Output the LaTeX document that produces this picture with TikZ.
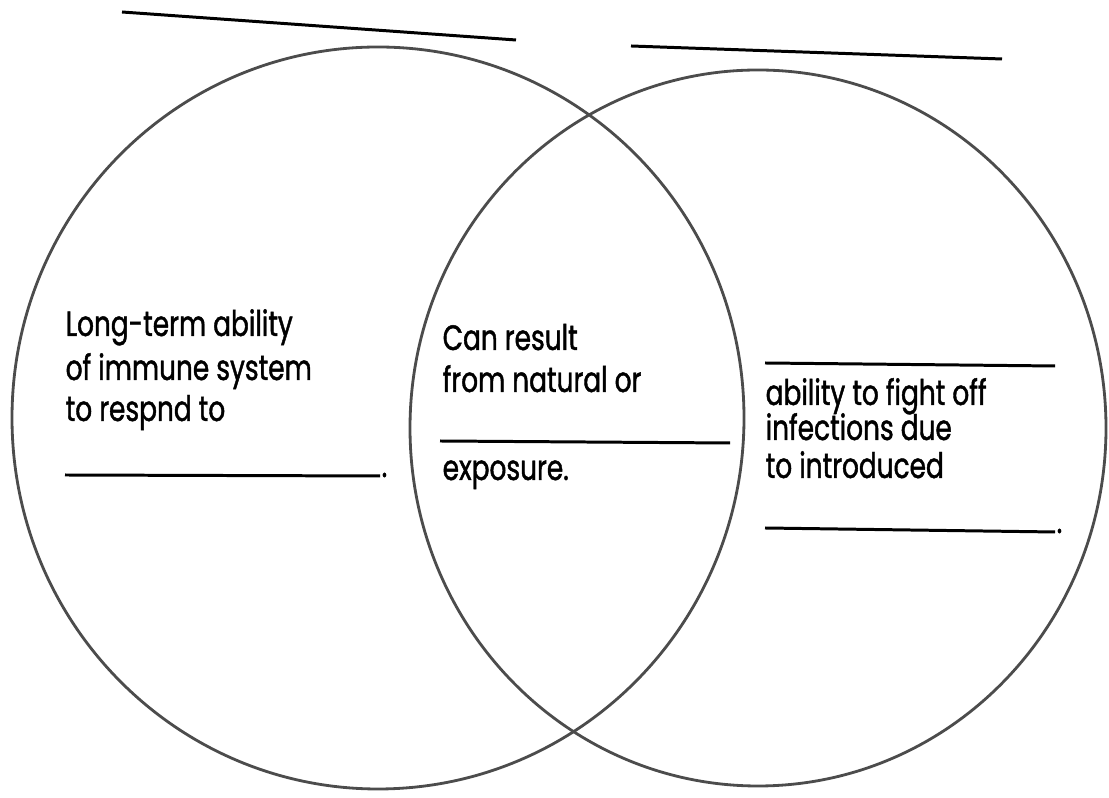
\documentclass[tikz,border=0pt]{standalone}
\usepackage{fontspec}
\setmainfont{Poppins}[FakeStretch=0.75, FakeBold=1.2]
\usepackage{tikz}
\usetikzlibrary{calc, positioning}

\tikzset{
    ring/.style={draw=black!70, line width=0.8pt},
    blank/.style={draw=black, line width=0.85pt},
    txt/.style={anchor=base west, inner sep=0pt, font=\fontsize{10}{12}\selectfont}
}

\begin{document}
\begin{tikzpicture}[x=0.01cm, y=-0.01cm]
                    \useasboundingbox (0, 0) rectangle (1109, 798);

                    % the two circles
                    \draw[ring] (378, 418) ellipse [x radius=366, y radius=371];
                    \draw[ring] (758, 428) ellipse [x radius=348, y radius=358];

                    % headings to fill in
                    \draw[blank] (122, 12) -- (516, 40);
                    \draw[blank] (631, 46) -- (1002, 59);

                    % left part
                    \node[txt] (left1) at (65, 336) {Long-term ability};
                    \node[txt] (left2) at (65, 380) {of immune system};
                    \node[txt] (left3) at (65, 421) {to respnd to};
                    \draw[blank] (65, 475) -- (380, 476);
                    \node[txt] (leftdot) at (381, 477) {.};

                    % middle part
                    \node[txt] (mid1) at (442, 350) {Can result};
                    \node[txt] (mid2) at (442, 392) {from natural or};
                    \draw[blank] (440, 441) -- (730, 443);
                    \node[txt] (mid3) at (442, 480) {exposure.};

                    % right part
                    \draw[blank] (765, 363) -- (1055, 366);
                    \node[txt] (right1) at (765, 405) {ability to fight off};
                    \node[txt] (right2) at (765, 440) {infections due};
                    \node[txt] (right3) at (765, 478) {to introduced};
                    \draw[blank] (765, 528) -- (1055, 532);
                    \node[txt] (rightdot) at (1056, 533) {.};
\end{tikzpicture}
\end{document}
